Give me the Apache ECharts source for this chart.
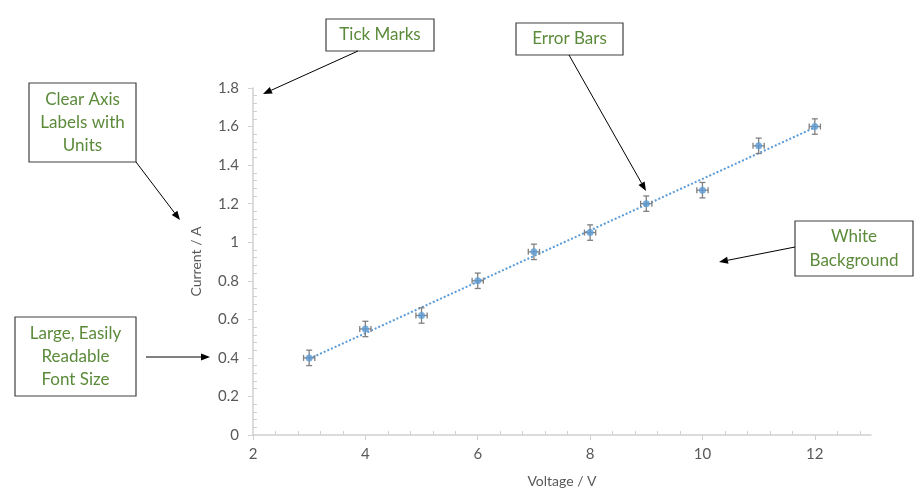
<!DOCTYPE html>
<html>
<head>
<meta charset="utf-8">
<script src="https://cdn.jsdelivr.net/npm/echarts@6/dist/echarts.min.js"></script>
<style>html,body{margin:0;padding:0;background:#fff;}#c{width:922px;height:500px;}</style>
</head>
<body>
<div id="c"></div>
<script>
const voltage = [3, 4, 5, 6, 7, 8, 9, 10, 11, 12];
const current = [0.40, 0.55, 0.62, 0.80, 0.95, 1.05, 1.20, 1.27, 1.50, 1.60];
const xError = [0.1, 0.1, 0.1, 0.1, 0.1, 0.1, 0.1, 0.1, 0.1, 0.1];
const yError = [0.04, 0.04, 0.04, 0.04, 0.04, 0.04, 0.04, 0.04, 0.04, 0.04];
const trendX = [3, 12];
const trendY = [0.395, 1.595];
const xTickLabels = [2, 4, 6, 8, 10, 12];
const yTickLabels = [0, 0.2, 0.4, 0.6, 0.8, 1, 1.2, 1.4, 1.6, 1.8];

const points = voltage.map((v, i) => [v, current[i]]);
const errData = voltage.map((v, i) => [v, current[i], xError[i], yError[i]]);
const trend = trendX.map((v, i) => [v, trendY[i]]);

const green = '#5b8a3a';
const font = 'Lato, "Open Sans", sans-serif';
function box(x, y, w, h, lines, lineH) {
  const els = [{type: 'rect', shape: {x: x, y: y, width: w, height: h}, style: {fill: '#fff', stroke: '#404040', lineWidth: 1.2}}];
  const startY = y + h / 2 - (lines.length - 1) * lineH / 2;
  lines.forEach((t, i) => {
    els.push({type: 'text', style: {x: x + w / 2, y: startY + i * lineH, text: t, fill: green, font: '17px ' + font, align: 'center', verticalAlign: 'middle'}});
  });
  return els;
}
function arrow(x1, y1, x2, y2) {
  const ang = Math.atan2(y2 - y1, x2 - x1);
  const L = 9, W = 3.5;
  const bx = x2 - L * Math.cos(ang), by = y2 - L * Math.sin(ang);
  const px = -Math.sin(ang) * W, py = Math.cos(ang) * W;
  return [
    {type: 'line', shape: {x1: x1, y1: y1, x2: bx, y2: by}, style: {stroke: '#000', lineWidth: 1}},
    {type: 'polygon', shape: {points: [[x2, y2], [bx + px, by + py], [bx - px, by - py]]}, style: {fill: '#000'}}
  ];
}
const graphics = [].concat(
  box(326, 19, 108, 32, ['Tick Marks'], 23), arrow(358, 51, 263, 94),
  box(29, 83, 107, 79, ['Clear Axis', 'Labels with', 'Units'], 23), arrow(136, 162, 180, 220),
  box(15, 317, 121, 79, ['Large, Easily', 'Readable', 'Font Size'], 23), arrow(146, 357, 210, 357),
  box(516, 23, 107, 32, ['Error Bars'], 23), arrow(569, 55, 646, 191),
  box(795, 221, 118, 55, ['White', 'Background'], 24), arrow(795, 247, 719, 262)
);

const chart = echarts.init(document.getElementById('c'));
chart.setOption({
  backgroundColor: '#fff',
  animation: false,
  grid: {left: 253, right: 51, top: 88, bottom: 65, containLabel: false},
  xAxis: {
    type: 'value', min: 2, max: 13, interval: 2,
    name: 'Voltage / V', nameLocation: 'middle', nameGap: 39,
    nameTextStyle: {color: '#595959', fontSize: 14, fontFamily: font},
    axisLine: {lineStyle: {color: '#d0d0d0', width: 1.5}},
    axisTick: {show: true, length: 5, lineStyle: {color: '#d0d0d0'}, customValues: xTickLabels},
    minorTick: {show: true, splitNumber: 5, length: -4, lineStyle: {color: '#d0d0d0'}},
    splitLine: {show: false},
    axisLabel: {color: '#595959', fontSize: 15, fontFamily: font, margin: 12, customValues: xTickLabels}
  },
  yAxis: {
    type: 'value', min: 0, max: 1.8, interval: 0.2,
    name: 'Current / A', nameLocation: 'middle', nameGap: 50, nameRotate: 90,
    nameTextStyle: {color: '#595959', fontSize: 14, fontFamily: font},
    axisLine: {show: true, lineStyle: {color: '#d0d0d0', width: 1.5}},
    axisTick: {show: true, length: 5, lineStyle: {color: '#d0d0d0'}},
    minorTick: {show: true, splitNumber: 5, length: -4, lineStyle: {color: '#d0d0d0'}},
    splitLine: {show: false},
    axisLabel: {color: '#595959', fontSize: 15, fontFamily: font, margin: 14,
      formatter: v => String(parseFloat(v.toFixed(1)))}
  },
  series: [
    {
      type: 'line', data: trend, showSymbol: false, symbol: 'none',
      lineStyle: {color: '#5b9bd5', width: 2, type: [2, 2]}, z: 1
    },
    {
      type: 'custom', data: errData, z: 2,
      renderItem: function (params, api) {
        const x = api.value(0), y = api.value(1), ex = api.value(2), ey = api.value(3);
        const top = api.coord([x, y + ey]), bot = api.coord([x, y - ey]);
        const lft = api.coord([x - ex, y]), rgt = api.coord([x + ex, y]);
        const c = 3;
        const st = {stroke: '#808080', lineWidth: 1.3};
        return {type: 'group', children: [
          {type: 'line', shape: {x1: top[0], y1: top[1], x2: bot[0], y2: bot[1]}, style: st},
          {type: 'line', shape: {x1: top[0] - c, y1: top[1], x2: top[0] + c, y2: top[1]}, style: st},
          {type: 'line', shape: {x1: bot[0] - c, y1: bot[1], x2: bot[0] + c, y2: bot[1]}, style: st},
          {type: 'line', shape: {x1: lft[0], y1: lft[1], x2: rgt[0], y2: rgt[1]}, style: st},
          {type: 'line', shape: {x1: lft[0], y1: lft[1] - c, x2: lft[0], y2: lft[1] + c}, style: st},
          {type: 'line', shape: {x1: rgt[0], y1: rgt[1] - c, x2: rgt[0], y2: rgt[1] + c}, style: st}
        ]};
      }
    },
    {
      type: 'scatter', data: points, symbol: 'circle', symbolSize: 7,
      itemStyle: {color: '#5b9bd5'}, z: 3
    }
  ],
  graphic: graphics
});
</script>
</body>
</html>
